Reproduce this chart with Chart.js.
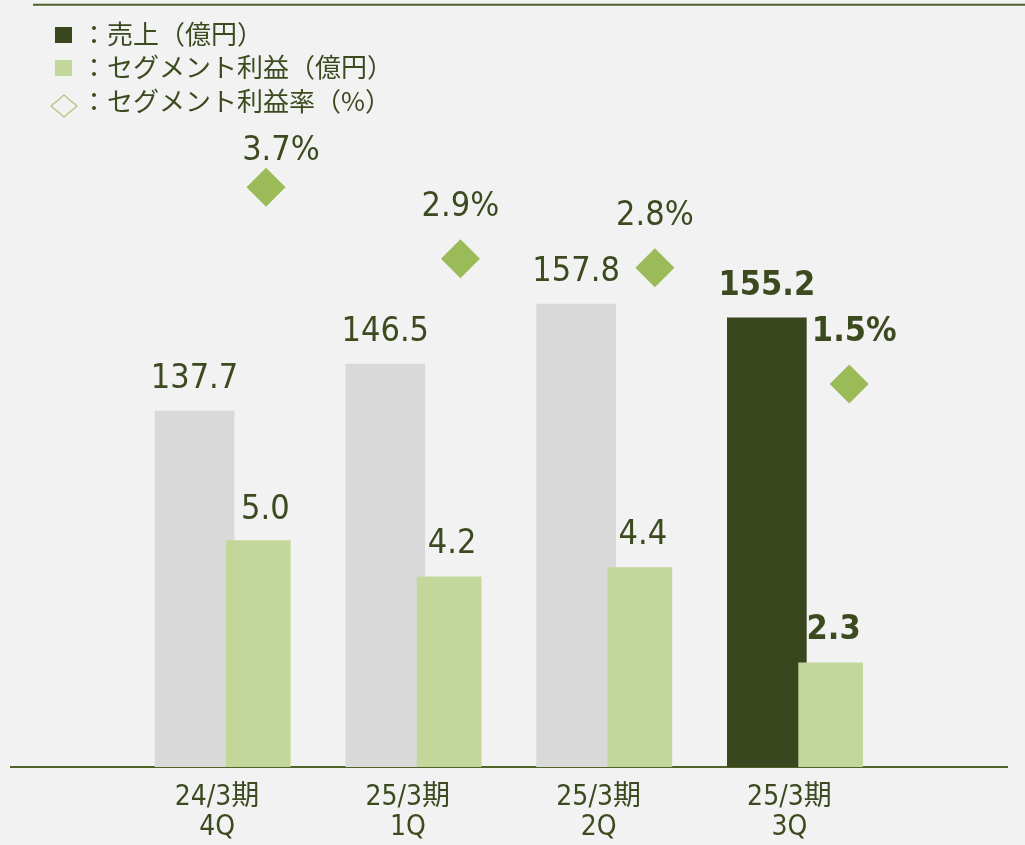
<!DOCTYPE html>
<html>
<head>
<meta charset="utf-8">
<script src="https://cdn.jsdelivr.net/npm/chart.js@4/dist/chart.umd.min.js"></script>
<style>
  html, body { margin: 0; padding: 0; background: #f2f2f2; }
  canvas { display: block; }
</style>
</head>
<body>
<canvas id="c" width="1025" height="845"></canvas>
<script>
// ---- data ----
const categories = [['24/3期', '4Q'], ['25/3期', '1Q'], ['25/3期', '2Q'], ['25/3期', '3Q']];
const sales = [137.7, 146.5, 157.8, 155.2];      // 売上（億円）
const profit = [5.0, 4.2, 4.4, 2.3];             // セグメント利益（億円）
const rate = [3.7, 2.9, 2.8, 1.5];               // セグメント利益率（%）
const legendLabels = ['：売上（億円）', '：セグメント利益（億円）', '：セグメント利益率（%）'];

// ---- styles ----
const BG = '#f2f2f2';
const GRAY = '#d9d9d9';
const DARK = '#3a461d';
const LIGHT = '#c4d79b';
const DIAMOND = '#9bbb59';
const LINE = '#4f6228';
const TEXT = '#3c4a1f';
const NUM_FONT = '"DejaVu Sans Condensed", "DejaVu Sans", "Noto Sans CJK JP", sans-serif';
const JP_FONT = '"Noto Sans CJK JP", "DejaVu Sans", sans-serif';
const last = sales.length - 1;
const BAR_SHIFT = 0.1672;   // half a bar slot, in category units
const LABEL_SHIFT = -0.049; // category label shift

const salesColors = sales.map((v, i) => i === last ? DARK : GRAY);

const frame = {
  id: 'frame',
  beforeDraw(chart) {
    const ctx = chart.ctx;
    ctx.save();
    ctx.fillStyle = BG;
    ctx.fillRect(0, 0, chart.width, chart.height);
    ctx.strokeStyle = LINE;
    ctx.lineWidth = 2;
    ctx.beginPath();
    ctx.moveTo(33, 4.7);
    ctx.lineTo(1025, 4.7);
    ctx.stroke();
    ctx.restore();
  },
  afterDraw(chart) {
    const ctx = chart.ctx;
    ctx.save();
    const rows = [34, 67.5, 101];
    ctx.fillStyle = DARK;
    ctx.fillRect(55, 27, 17, 16);
    ctx.fillStyle = LIGHT;
    ctx.fillRect(55, 60, 17, 16);
    ctx.strokeStyle = '#afc97a';
    ctx.lineWidth = 1.3;
    ctx.beginPath();
    const dx = 64, dy = 106;
    ctx.moveTo(dx - 13, dy);
    ctx.lineTo(dx, dy - 11);
    ctx.lineTo(dx + 13, dy);
    ctx.lineTo(dx, dy + 11);
    ctx.closePath();
    ctx.stroke();
    ctx.fillStyle = TEXT;
    ctx.font = '26px ' + JP_FONT;
    ctx.textBaseline = 'middle';
    ctx.textAlign = 'left';
    legendLabels.forEach((t, i) => ctx.fillText(t, 81, rows[i]));
    ctx.restore();
  }
};

const valueLabels = {
  id: 'valueLabels',
  afterDatasetsDraw(chart) {
    const ctx = chart.ctx;
    ctx.save();
    ctx.fillStyle = TEXT;
    ctx.textAlign = 'center';
    ctx.textBaseline = 'alphabetic';
    const fontFor = (i) => (i === last ? 'bold ' : '') + '34px ' + NUM_FONT;
    chart.getDatasetMeta(0).data.forEach((el, i) => {
      ctx.font = fontFor(i);
      ctx.fillText(sales[i].toFixed(1), el.x, el.y - 23);
    });
    chart.getDatasetMeta(1).data.forEach((el, i) => {
      ctx.font = fontFor(i);
      ctx.fillText(profit[i].toFixed(1), el.x + 3 + (i === 0 ? 4 : 0), el.y - 24 + (i === 0 ? 3 : 0));
    });
    chart.getDatasetMeta(2).data.forEach((el, i) => {
      ctx.font = fontFor(i);
      const nx = i === 0 ? 15 : (i === last ? 5 : 0);
      const ny = i === 0 ? 16 : 0;
      ctx.fillText(rate[i].toFixed(1) + '%', el.x + nx, el.y - 43 + ny);
    });
    ctx.restore();
  }
};

new Chart(document.getElementById('c'), {
  data: {
    datasets: [
      {
        type: 'bar',
        label: '売上（億円）',
        data: sales.map((v, i) => ({ x: i - BAR_SHIFT, y: v })),
        backgroundColor: salesColors,
        borderWidth: 0,
        grouped: false,
        barThickness: 79,
        xAxisID: 'x',
        yAxisID: 'yS',
        order: 3
      },
      {
        type: 'bar',
        label: 'セグメント利益（億円）',
        data: profit.map((v, i) => ({ x: i + BAR_SHIFT, y: v })),
        backgroundColor: LIGHT,
        borderWidth: 0,
        grouped: false,
        barThickness: 64,
        xAxisID: 'x',
        yAxisID: 'yP',
        order: 2
      },
      {
        type: 'line',
        label: 'セグメント利益率（%）',
        data: rate.map((v, i) => ({ x: i, y: v })),
        showLine: false,
        pointStyle: 'rectRot',
        pointRadius: 19.5,
        pointHoverRadius: 19.5,
        pointBackgroundColor: DIAMOND,
        pointBorderWidth: 0,
        borderColor: DIAMOND,
        xAxisID: 'xR',
        yAxisID: 'yR',
        order: 1,
        clip: false
      }
    ]
  },
  options: {
    responsive: false,
    animation: false,
    devicePixelRatio: 1,
    layout: { autoPadding: false, padding: { left: 11, right: 18, top: 0, bottom: 0 } },
    plugins: { legend: { display: false }, tooltip: { enabled: false } },
    scales: {
      x: {
        type: 'linear',
        offset: false,
        min: -1.1291,
        max: 4.0916,
        grid: { display: false, drawTicks: false, offset: false },
        border: { display: true, color: LINE, width: 2 },
        afterBuildTicks(scale) {
          scale.ticks = categories.map((c, i) => ({ value: i + LABEL_SHIFT }));
        },
        afterFit(scale) { scale.height = 78; },
        ticks: {
          autoSkip: false,
          maxRotation: 0,
          padding: 15,
          color: TEXT,
          font: { family: NUM_FONT, size: 28, lineHeight: 1.1 },
          callback: (value, index) => categories[index]
        }
      },
      xR: { type: 'linear', display: false, offset: false, min: -1.3115, max: 3.8112 },
      yS: { type: 'linear', display: false, min: 70.82, max: 214.91 },
      yP: { type: 'linear', display: false, min: 0, max: 16.93 },
      yR: { type: 'linear', display: false, min: -2.784, max: 5.794 }
    }
  },
  plugins: [frame, valueLabels]
});
</script>
</body>
</html>
